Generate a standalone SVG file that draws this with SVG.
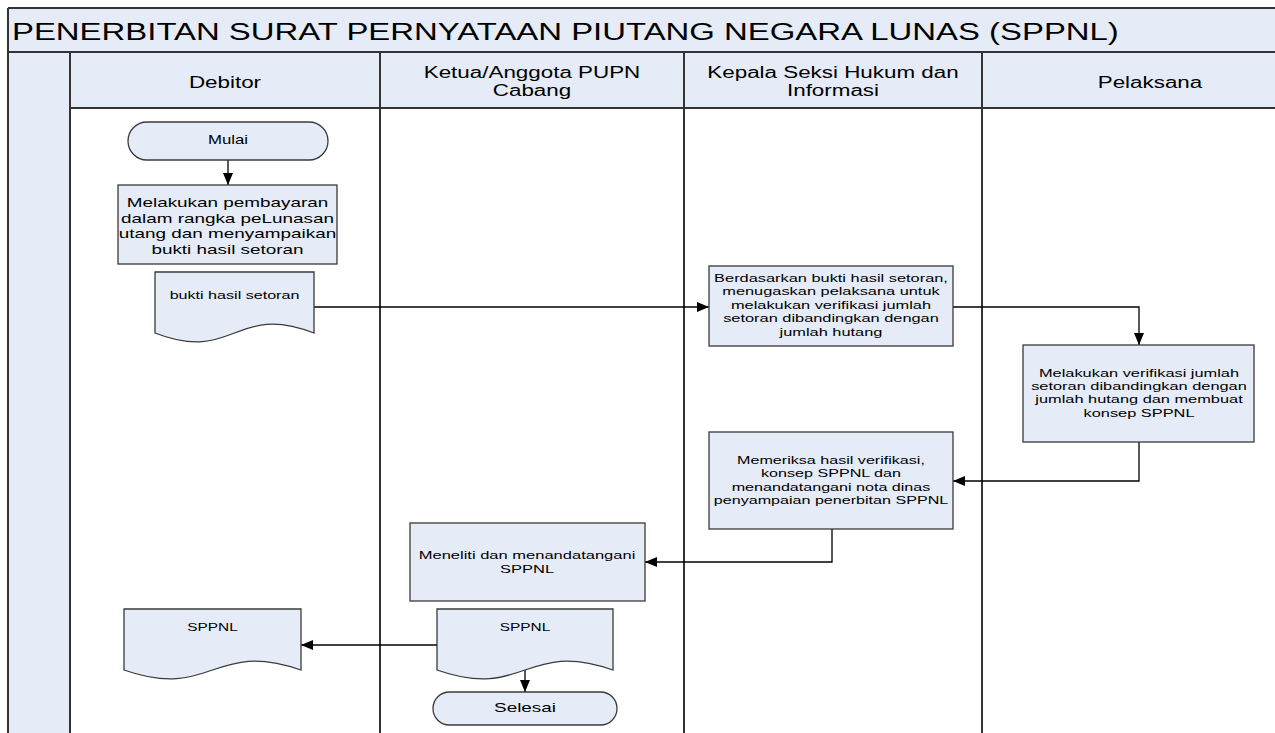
<svg xmlns="http://www.w3.org/2000/svg" width="1275" height="733" viewBox="0 0 1275 733">
<style>
.band{fill:#E5ECF7;stroke:none}
.lane{stroke:#333;stroke-width:2;fill:none}
.node{fill:#E5ECF7;stroke:#3a3a3a;stroke-width:1.3}
.t{font-family:"Liberation Sans",Arial,sans-serif;fill:#000;text-anchor:middle}
.conn{fill:none;stroke:#000;stroke-width:1.3}
</style>
<defs>
<marker id="arr" markerUnits="userSpaceOnUse" markerWidth="13" markerHeight="11" refX="12" refY="5" orient="auto">
<path d="M0,0 L12,5 L0,10 z" fill="#000"/>
</marker>
</defs>
<rect x="0" y="0" width="1275" height="733" fill="#fff"/>
<g id="pool">
<rect class="band" x="8" y="8" width="1280" height="100"/>
<rect class="band" x="8" y="108" width="62" height="640"/>
<path class="lane" d="M8,8 H1290 M8,52 H1290 M70,108 H1290 M8,8 V745 M70,52 V745 M380,52 V745 M684,52 V745 M982,52 V745"/>
<text class="t" style="text-anchor:start" font-size="23.5" transform="matrix(1.4 0 0 1 12 0)" x="0" y="40">PENERBITAN SURAT PERNYATAAN PIUTANG NEGARA LUNAS (SPPNL)</text>
<text class="t" font-size="16" transform="matrix(1.4 0 0 1 225 0)" x="0" y="88">Debitor</text>
<text class="t" font-size="16" transform="matrix(1.4 0 0 1 532 0)"><tspan x="0" y="78">Ketua/Anggota PUPN</tspan><tspan x="0" y="96">Cabang</tspan></text>
<text class="t" font-size="16" transform="matrix(1.4 0 0 1 833 0)"><tspan x="0" y="78">Kepala Seksi Hukum dan</tspan><tspan x="0" y="96">Informasi</tspan></text>
<text class="t" font-size="16" transform="matrix(1.4 0 0 1 1150 0)" x="0" y="88">Pelaksana</text>
</g>
<g id="connectors">
<path class="conn" marker-end="url(#arr)" d="M228,160 V185"/>
<path class="conn" marker-end="url(#arr)" d="M314,307 H709"/>
<path class="conn" marker-end="url(#arr)" d="M953,307 H1139 V345"/>
<path class="conn" marker-end="url(#arr)" d="M1139,442 V481 H953"/>
<path class="conn" marker-end="url(#arr)" d="M832,529 V562 H645"/>
<path class="conn" marker-end="url(#arr)" d="M437,645 H301"/>
<path class="conn" marker-end="url(#arr)" d="M525,670 V692"/>
</g>
<g id="mulai">
<rect class="node" x="128" y="122" width="200" height="38" rx="19" ry="19"/>
<text class="t" font-size="12" transform="matrix(1.4 0 0 1 228 0)" x="0" y="144.5">Mulai</text>
</g>
<g id="bayar">
<rect class="node" x="118" y="185" width="219" height="79"/>
<text class="t" font-size="13.5" transform="matrix(1.4 0 0 1 227.5 0)"><tspan x="0" y="207.5">Melakukan pembayaran</tspan><tspan x="0" y="223">dalam rangka peLunasan</tspan><tspan x="0" y="238.5">utang dan menyampaikan</tspan><tspan x="0" y="254">bukti hasil setoran</tspan></text>
</g>
<g id="bukti">
<path class="node" d="M155,272 H314 V333 C234.5,302 234.5,364 155,333 Z"/>
<text class="t" font-size="11.5" transform="matrix(1.4 0 0 1 234.5 0)" x="0" y="299">bukti hasil setoran</text>
</g>
<g id="tugaskan">
<rect class="node" x="709" y="266" width="244" height="80"/>
<text class="t" font-size="11.7" transform="matrix(1.4 0 0 1 831 0)"><tspan x="0" y="282">Berdasarkan bukti hasil setoran,</tspan><tspan x="0" y="295.5">menugaskan pelaksana untuk</tspan><tspan x="0" y="309">melakukan verifikasi jumlah</tspan><tspan x="0" y="322.5">setoran dibandingkan dengan</tspan><tspan x="0" y="336">jumlah hutang</tspan></text>
</g>
<g id="verifikasi">
<rect class="node" x="1023" y="345" width="231" height="97"/>
<text class="t" font-size="11.7" transform="matrix(1.4 0 0 1 1139 0)"><tspan x="0" y="377">Melakukan verifikasi jumlah</tspan><tspan x="0" y="390.2">setoran dibandingkan dengan</tspan><tspan x="0" y="403.4">jumlah hutang dan membuat</tspan><tspan x="0" y="416.6">konsep SPPNL</tspan></text>
</g>
<g id="memeriksa">
<rect class="node" x="709" y="432" width="244" height="97"/>
<text class="t" font-size="11.5" transform="matrix(1.4 0 0 1 831 0)"><tspan x="0" y="464">Memeriksa hasil verifikasi,</tspan><tspan x="0" y="477.3">konsep SPPNL dan</tspan><tspan x="0" y="490.6">menandatangani nota dinas</tspan><tspan x="0" y="504">penyampaian penerbitan SPPNL</tspan></text>
</g>
<g id="meneliti">
<rect class="node" x="410" y="523" width="235" height="78"/>
<text class="t" font-size="11.8" transform="matrix(1.4 0 0 1 527 0)"><tspan x="0" y="559">Meneliti dan menandatangani</tspan><tspan x="0" y="573">SPPNL</tspan></text>
</g>
<g id="sppnl-ketua">
<path class="node" d="M437,609 H613 V670 C525,639 525,701 437,670 Z"/>
<text class="t" font-size="11" transform="matrix(1.4 0 0 1 525 0)" x="0" y="631">SPPNL</text>
</g>
<g id="sppnl-debitor">
<path class="node" d="M124,609 H301 V670 C212.5,639 212.5,701 124,670 Z"/>
<text class="t" font-size="11" transform="matrix(1.4 0 0 1 212.5 0)" x="0" y="631">SPPNL</text>
</g>
<g id="selesai">
<rect class="node" x="433" y="692" width="184" height="33" rx="16.5" ry="16.5"/>
<text class="t" font-size="13.5" transform="matrix(1.4 0 0 1 525 0)" x="0" y="712.5">Selesai</text>
</g>
</svg>
